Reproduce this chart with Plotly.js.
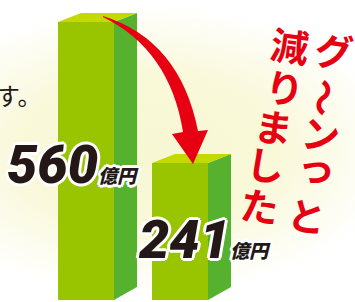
<!DOCTYPE html>
<html>
<head>
<meta charset="utf-8">
<script src="https://cdn.plot.ly/plotly-3.0.1.min.js"></script>
<style>
  html, body { margin: 0; padding: 0; background: #ffffff; }
  #chart {
    width: 355px; height: 302px;
    background: radial-gradient(ellipse 250px 145px at 150px 150px, #f8f7d4 0%, #f9f8d8 50%, #ffffff 100%);
  }
</style>
</head>
<body>
<div id="chart"></div>
<script>
// ---- data ----
const categories = ['before', 'after'];
const values = [560, 241];
const unit = '億円';
const headline1 = ['減', 'り', 'ま', 'し', 'た'];
const headline2 = ['グ', '〜', 'ン', 'っ', 'と'];
const leadText = 'す。';

// ---- geometry (pixel-to-axis mapping) ----
const W = 355, H = 302;
const pxPerX = 94;                 // pixels per category step
const x0px = 86;                   // pixel of first category centre
const pxPerY = 141 / 319;          // pixels per value unit
const zeroPx = 269.5;              // pixel of value 0
const xRange = [-x0px / pxPerX, (W - x0px) / pxPerX];
const yRange = [-(H - zeroPx) / pxPerY, zeroPx / pxPerY];
const barW = 56 / pxPerX;
const depthX = 23 / pxPerX;
const depthTop = 9 / pxPerY;
const depthBot = 13 / pxPerY;
const base = -(300 - zeroPx) / pxPerY;

const FRONT = '#99c400', SIDE = '#56b22e', TOP = '#c4d900', RED = '#e60012';

const xs = categories.map((_, i) => i);
const traces = [];
traces.push({
  type: 'bar', x: xs, y: values.map(v => v - base), base: base,
  width: barW, marker: { color: FRONT, line: { width: 0 } },
  hoverinfo: 'skip', showlegend: false
});
values.forEach((v, i) => {
  const r = i + barW / 2, l = i - barW / 2;
  traces.push({
    type: 'scatter', mode: 'lines', fill: 'toself', fillcolor: SIDE,
    x: [r, r + depthX, r + depthX, r, r],
    y: [base, base + depthBot, v + depthTop, v, base],
    line: { width: 0, color: SIDE }, hoverinfo: 'skip', showlegend: false
  });
  traces.push({
    type: 'scatter', mode: 'lines', fill: 'toself', fillcolor: TOP,
    x: [l, r, r + depthX, l + depthX, l],
    y: [v, v, v + depthTop, v + depthTop, v],
    line: { width: 0, color: TOP }, hoverinfo: 'skip', showlegend: false
  });
});

const px = (x, y) => (x / W).toFixed(4) + ',' + (1 - y / H).toFixed(4);

const outline = [
  '#fff 2px 0 0', '#fff -2px 0 0', '#fff 0 2px 0', '#fff 0 -2px 0',
  '#fff 2px 2px 0', '#fff -2px -2px 0', '#fff 2px -2px 0', '#fff -2px 2px 0',
  '#fff 3px 0 0', '#fff -3px 0 0', '#fff 0 3px 0', '#fff 0 -3px 0'
].join(', ');

const annotations = [];
const labelShift = [[-13, -143], [24, -77]];
values.forEach((v, i) => {
  annotations.push({
    x: i, y: v, xref: 'x', yref: 'y', showarrow: false,
    xanchor: 'center', yanchor: 'middle',
    xshift: labelShift[i][0], yshift: labelShift[i][1],
    text: v + '<span style="font-size:19px">' + unit + '</span>',
    font: { family: 'Roboto, "Noto Sans CJK JP", sans-serif', size: 54, color: '#231815',
            weight: 900, style: 'italic', shadow: outline }
  });
});

annotations.push({
  x: 0, y: 1 - 95 / H, xref: 'paper', yref: 'paper', showarrow: false,
  xanchor: 'left', yanchor: 'middle', xshift: -6, text: leadText,
  font: { family: '"Noto Sans CJK JP", sans-serif', size: 24, color: '#231815' }
});

const col1 = [[290, 45], [285, 86], [274, 125], [266, 163], [260, 204]];
const col2 = [[334, 50], [326, 98], [321, 133], [317, 165], [307, 214]];
function addCol(chars, pos) {
  chars.forEach((c, k) => {
    annotations.push({
      x: pos[k][0] / W, y: 1 - pos[k][1] / H, xref: 'paper', yref: 'paper',
      showarrow: false, xanchor: 'center', yanchor: 'middle', text: c,
      textangle: c === '〜' ? 98 : 8,
      font: { family: '"Noto Sans CJK JP", sans-serif', size: 38, color: RED, weight: 'bold' }
    });
  });
}
addCol(headline1, col1);
addCol(headline2, col2);

const arrowPath = 'M ' + px(103, 16) +
  ' Q ' + px(180, 40) + ' ' + px(198, 131) +
  ' L ' + px(208, 130) + ' L ' + px(193, 164) + ' L ' + px(172, 134) +
  ' L ' + px(183, 132) +
  ' Q ' + px(170, 50) + ' ' + px(103, 17) + ' Z';

const layout = {
  width: W, height: H,
  margin: { l: 0, r: 0, t: 0, b: 0 },
  paper_bgcolor: 'rgba(0,0,0,0)', plot_bgcolor: 'rgba(0,0,0,0)',
  xaxis: { range: xRange, visible: false, fixedrange: true },
  yaxis: { range: yRange, visible: false, fixedrange: true },
  showlegend: false,
  shapes: [{ type: 'path', xref: 'paper', yref: 'paper', path: arrowPath,
             fillcolor: RED, line: { width: 0 }, layer: 'above' }],
  annotations: annotations
};

Plotly.newPlot('chart', traces, layout, { displayModeBar: false, staticPlot: true });
</script>
</body>
</html>
